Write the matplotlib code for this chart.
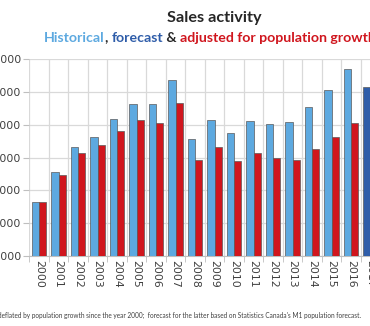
import matplotlib.pyplot as plt
from matplotlib.ticker import FuncFormatter, MultipleLocator
import numpy as np

# Sales activity, historical and population-adjusted
years = [str(y) for y in range(2000, 2018)]
historical = [332700, 377500, 415500, 431700, 459100, 481000, 481000, 517500, 428200,
              456600, 437300, 456000, 451000, 454000, 476900, 503300, 534800]
adjusted = [332700, 373400, 406900, 418500, 440800, 457100, 452600, 483000, 395700,
            416500, 394700, 406900, 398700, 396200, 412500, 430800, 452600]
forecast = [507400]

light_blue = '#5DA9E0'
dark_blue = '#2F5DA9'
red = '#D0161E'
edge = '#5a5a5a'

fig = plt.figure(figsize=(3.7, 3.26), dpi=100)
ax = fig.add_axes([29.3 / 370, 70 / 326, 351 / 370, 197 / 326])

x = np.arange(len(years))
w = 0.38
n = len(historical)
ax.bar(x[:n] - w / 2, historical, w, color=light_blue, edgecolor=edge, linewidth=0.5, zorder=3)
ax.bar(x[:n] + w / 2, adjusted, w, color=red, edgecolor=edge, linewidth=0.5, zorder=3)
ax.bar(x[n:] - w / 2, forecast, w, color=dark_blue, edgecolor=edge, linewidth=0.5, zorder=3)

ax.set_xlim(-0.5, len(years) - 0.5)
ax.set_ylim(250000, 550000)
ax.yaxis.set_major_locator(MultipleLocator(50000))
ax.yaxis.set_major_formatter(FuncFormatter(lambda v, p: f'{int(v):,}'))

ax.set_xticks(x)
ax.set_xticklabels(years, rotation=-90, fontsize=7.8, color='#404040')
ax.set_xticks(np.arange(-0.5, len(years), 1), minor=True)
ax.tick_params(axis='x', which='major', length=0, pad=3)
ax.tick_params(axis='x', which='minor', length=4, color='#bfbfbf')
ax.tick_params(axis='y', length=4, color='#bfbfbf', labelsize=7.8, labelcolor='#404040', pad=2)

ax.grid(axis='y', color='#d9d9d9', linewidth=0.9, zorder=0)
ax.grid(axis='x', which='minor', color='#d9d9d9', linewidth=0.9, zorder=0)
for side in ['top', 'right', 'left']:
    ax.spines[side].set_visible(False)
ax.spines['bottom'].set_color('#bfbfbf')

# Titles
fig.text(214 / 370, 1 - 18 / 326, 'Sales activity', ha='center', va='center',
         fontsize=11.7, fontweight='bold', color='#262626', family='Lato')
parts = [('Historical', light_blue), (', ', '#262626'), ('forecast', dark_blue),
         (' & ', '#262626'), ('adjusted for population growth', red)]
xpos = 44 / 370
renderer = fig.canvas.get_renderer()
for txt, col in parts:
    t = fig.text(xpos, 1 - 38 / 326, txt, ha='left', va='center', fontsize=10.2,
                 fontweight='bold', color=col, family='Lato')
    bb = t.get_window_extent(renderer=renderer)
    xpos += bb.width / fig.bbox.width

fig.text(-0.005, 1 - 315 / 326,
         "deflated by population growth since the year 2000;  forecast for the latter based on "
         "Statistics Canada's M1 population forecast.",
         ha='left', va='center', fontsize=4.7, color='#404040', family='Lato')

fig.savefig('out.png', dpi=100)
